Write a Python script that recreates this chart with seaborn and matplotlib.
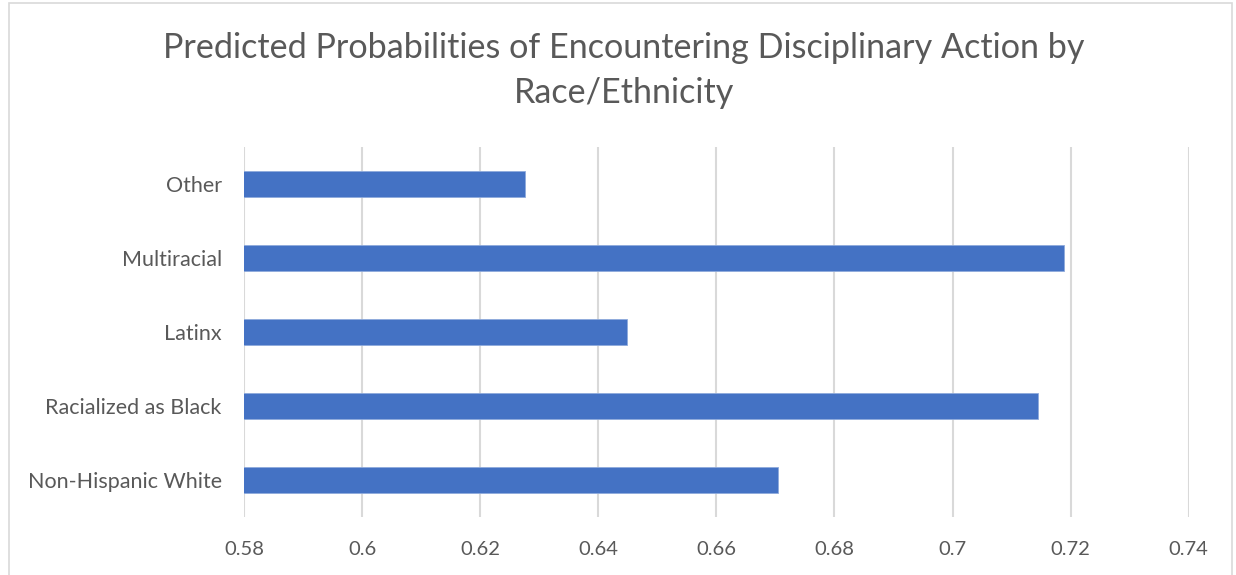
import matplotlib
matplotlib.use("Agg")
import matplotlib.pyplot as plt
from matplotlib.patches import Rectangle
from matplotlib.ticker import FuncFormatter
import pandas as pd
import seaborn as sns

# Data
groups = ["Other", "Multiracial", "Latinx", "Racialized as Black", "Non-Hispanic White"]
probabilities = [0.6276, 0.7188, 0.6448, 0.7144, 0.6705]
x_ticks = [0.58, 0.60, 0.62, 0.64, 0.66, 0.68, 0.70, 0.72, 0.74]

sns.set_theme(style="white")
plt.rcParams["font.family"] = ["Lato", "DejaVu Sans"]

TEXT = "#595959"
GRID = "#d9d9d9"
BAR = "#4472C4"

df = pd.DataFrame({"group": groups, "prob": probabilities})

fig = plt.figure(figsize=(12.36, 5.75), dpi=100)
ax = fig.add_axes([244 / 1236, 58 / 575, (1188.7 - 244) / 1236, 370 / 575])

sns.barplot(data=df, x="prob", y="group", order=groups, orient="h",
            color=BAR, saturation=1, width=0.35, ax=ax,
            edgecolor="#8faadc", linewidth=0.6)

ax.set_xlim(x_ticks[0], x_ticks[-1])
ax.set_ylim(len(groups) - 0.5, -0.5)
ax.set_xticks(x_ticks)
ax.xaxis.set_major_formatter(FuncFormatter(lambda v, p: f"{round(v, 2):g}"))
ax.grid(axis="x", color=GRID, linewidth=1.5)
ax.set_axisbelow(True)
for s in ax.spines.values():
    s.set_visible(False)
ax.tick_params(axis="x", length=0, pad=17, labelsize=14.5, labelcolor=TEXT)
ax.tick_params(axis="y", length=0, pad=16, labelsize=15.5, labelcolor=TEXT)
ax.set_xlabel("")
ax.set_ylabel("")

fig.text(0.505, 0.877, "Predicted Probabilities of Encountering Disciplinary Action by\nRace/Ethnicity",
         ha="center", va="center", fontsize=24.6, color=TEXT, linespacing=1.5)

# Chart frame
fig.patches.append(Rectangle((9 / 1236, -0.01), (1232 - 9) / 1236, (572 / 575) + 0.01,
                             transform=fig.transFigure, fill=False,
                             edgecolor=GRID, linewidth=1.2))

fig.savefig("out.png", dpi=100, facecolor="white")
